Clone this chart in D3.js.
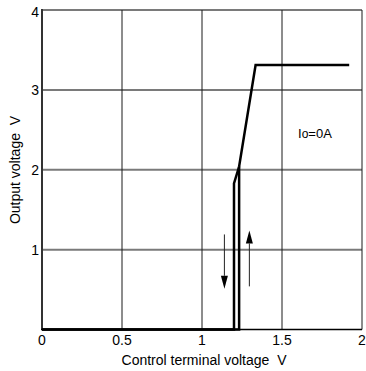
<!DOCTYPE html>
<html>
<head>
<meta charset="utf-8">
<script src="https://cdn.jsdelivr.net/npm/d3@7"></script>
<style>
  html, body { margin: 0; padding: 0; background: #fff; }
  svg { display: block; font-family: "Liberation Sans", Arial, sans-serif; }
  text { white-space: pre; }
</style>
</head>
<body>
<svg id="chart" width="366" height="371"></svg>
<script>
// Output voltage vs. control terminal voltage (hysteresis, Io = 0 A)
const xTicks = [0, 0.5, 1, 1.5, 2];
const xTickLabels = ["0", "0.5", "1", "1.5", "2"];
const yTicks = [1, 2, 3, 4];
const yTickLabels = ["1", "2", "3", "4"];

// Main transfer curve (falls back at ~1.20 V, rises to saturation)
const curveX = [0, 1.2, 1.2, 1.232, 1.335, 1.92];
const curveY = [0, 0, 1.83, 2.04, 3.31, 3.31];
// Rising branch at the turn-on threshold
const riseX = [0, 1.232, 1.232];
const riseY = [0, 0, 2.04];

// Direction arrows: [x, yFrom, yTo]
const arrowDown = [1.14, 1.19, 0.51];
const arrowUp = [1.296, 0.54, 1.24];

const svg = d3.select("#chart");
const x = d3.scaleLinear().domain([0, 2]).range([42, 362]);
const y = d3.scaleLinear().domain([0, 4]).range([329.5, 10]);

// Horizontal grid (grey)
svg.append("g").selectAll("line").data(yTicks).join("line")
  .attr("x1", x(0)).attr("x2", x(2))
  .attr("y1", d => y(d)).attr("y2", d => y(d))
  .attr("stroke", "#7a7a7a").attr("stroke-width", 2);

// Vertical grid (dark)
svg.append("g").selectAll("line").data(xTicks.slice(1)).join("line")
  .attr("x1", d => x(d)).attr("x2", d => x(d))
  .attr("y1", y(0)).attr("y2", y(4))
  .attr("stroke", "#1a1a1a").attr("stroke-width", 1);

// Left frame edge
svg.append("line")
  .attr("x1", x(0)).attr("x2", x(0)).attr("y1", y(0)).attr("y2", y(4) - 1)
  .attr("stroke", "#333").attr("stroke-width", 2);
// Bottom frame edge
svg.append("line")
  .attr("x1", x(0) - 1).attr("x2", x(2)).attr("y1", y(0)).attr("y2", y(0))
  .attr("stroke", "#000").attr("stroke-width", 1.5);

// Tick labels
svg.append("g").selectAll("text").data(xTicks).join("text")
  .attr("x", d => x(d)).attr("y", 345)
  .attr("text-anchor", "middle").attr("font-size", 14)
  .text((d, i) => xTickLabels[i]);
svg.append("g").selectAll("text").data(yTicks).join("text")
  .attr("x", 39).attr("y", d => y(d) + 5 + (d === 4 ? 2 : 0))
  .attr("text-anchor", "end").attr("font-size", 14)
  .text((d, i) => yTickLabels[i]);

// Axis titles
svg.append("text")
  .attr("x", 204).attr("y", 365)
  .attr("text-anchor", "middle").attr("font-size", 14)
  .text("Control terminal voltage  V");
svg.append("text")
  .attr("transform", "translate(20,170) rotate(-90)")
  .attr("text-anchor", "middle").attr("font-size", 14)
  .text("Output voltage  V");

// Curves
const line = d3.line().x(d => x(d[0])).y(d => y(d[1]));
svg.append("path")
  .attr("d", line(riseX.map((v, i) => [v, riseY[i]])))
  .attr("fill", "none").attr("stroke", "#000").attr("stroke-width", 2.5)
  .attr("stroke-linejoin", "miter");
svg.append("path")
  .attr("d", line(curveX.map((v, i) => [v, curveY[i]])))
  .attr("fill", "none").attr("stroke", "#000").attr("stroke-width", 2.5)
  .attr("stroke-linejoin", "miter");

// Arrows
function arrow(a) {
  const [ax, y0, y1] = a;
  const dir = y1 > y0 ? -1 : 1; // screen direction of the tip
  const tipY = y(y1);
  const baseY = tipY - dir * 13;
  svg.append("line")
    .attr("x1", x(ax)).attr("x2", x(ax))
    .attr("y1", y(y0)).attr("y2", baseY)
    .attr("stroke", "#222").attr("stroke-width", 1);
  svg.append("path")
    .attr("d", `M${x(ax) - 3.5},${baseY} L${x(ax) + 3.5},${baseY} L${x(ax)},${tipY} Z`)
    .attr("fill", "#000");
}
arrow(arrowDown);
arrow(arrowUp);

// Load current annotation
const ann = svg.append("text")
  .attr("x", 298).attr("y", 138).attr("font-size", 13);
ann.append("tspan").text("I");
ann.append("tspan").attr("font-size", 12).text("o");
ann.append("tspan").text("=0A");
</script>
</body>
</html>
